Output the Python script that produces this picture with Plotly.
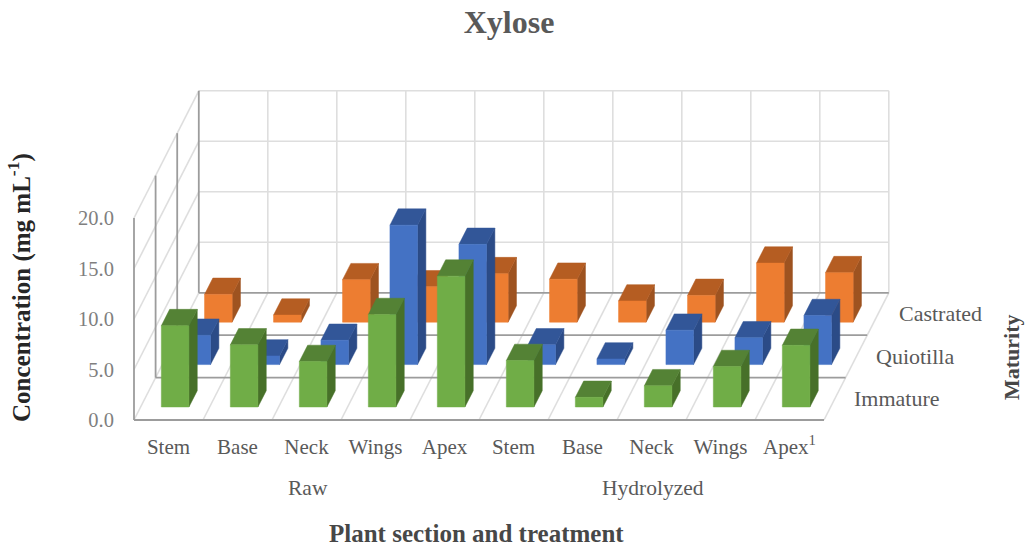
import plotly.graph_objects as go

# Categories along the front axis and the depth axis
SECTIONS = ["Stem", "Base", "Neck", "Wings", "Apex", "Stem", "Base", "Neck", "Wings", "Apex<sup>1</sup>"]
TREATMENTS = ["Raw", "Hydrolyzed"]
MATURITY = ["Immature", "Quiotilla", "Castrated"]

# Xylose concentration, mg/mL
IMMATURE = [8.05, 6.15, 4.5, 9.15, 12.95, 4.6, 0.95, 2.1, 4.0, 6.1]
QUIOTILLA = [2.9, 0.85, 2.4, 13.8, 11.9, 1.95, 0.55, 3.4, 2.65, 4.85]
CASTRATED = [2.75, 0.7, 4.2, 3.5, 4.8, 4.25, 2.1, 2.65, 5.85, 4.9]

Y_TICKS = [0, 5, 10, 15, 20]

# Page and plot-area layout, in pixels; the plot area leaves a little room
# around the front-left corner of the floor so its edge lines stay whole
WIDTH, HEIGHT = 1025, 546
PLOT_LEFT, PLOT_RIGHT, PLOT_TOP, PLOT_BOTTOM = 124, 900, 80, 424
ORIGIN_X, ORIGIN_Y = 134, 420
PX_PER_CATEGORY = 69.0
PX_PER_UNIT = 10.1

# Oblique projection: one depth row shifts a point along the x and y data axes
DX = 21.6 / PX_PER_CATEGORY
DY = 42.4 / PX_PER_UNIT
BAR_HALF_WIDTH = 0.2
BAR_HALF_DEPTH = 0.1925

GRID_LIGHT = "#dedede"
GRID_DARK = "#9c9c9c"
SERIF = "Liberation Serif"
TEXT_GREY = "#595959"
TITLE_GREY = "#474747"

# (front, top, side) colours per maturity row
ROW_COLOURS = [
    ("#70ad47", "#548235", "#477029"),
    ("#4472c4", "#325698", "#2b4b87"),
    ("#ed7d31", "#b55d22", "#9e5320"),
]
ROW_VALUES = [IMMATURE, QUIOTILLA, CASTRATED]


def project(cat, depth, value):
    return cat + depth * DX, value + depth * DY


def polyline(points):
    xs, ys = [], []
    for cat, depth, value in points:
        x, y = project(cat, depth, value)
        xs.append(x)
        ys.append(y)
    return xs, ys


def add_grid(fig, segments, colour, width):
    xs, ys = [], []
    for seg in segments:
        sx, sy = polyline(seg)
        xs += sx + [None]
        ys += sy + [None]
    fig.add_trace(go.Scatter(x=xs, y=ys, mode="lines", hoverinfo="skip",
                             line=dict(color=colour, width=width), showlegend=False))


def add_faces(fig, polygons, colour, name):
    xs, ys = [], []
    for poly in polygons:
        sx, sy = polyline(poly + poly[:1])
        xs += sx + [None]
        ys += sy + [None]
    fig.add_trace(go.Scatter(x=xs, y=ys, mode="lines", fill="toself", fillcolor=colour,
                             line=dict(color=colour, width=0.5),
                             name=name, showlegend=False, hoverinfo="skip"))


def paper_x(px):
    return (px - PLOT_LEFT) / (PLOT_RIGHT - PLOT_LEFT)


def paper_y(px):
    return (PLOT_BOTTOM - px) / (PLOT_BOTTOM - PLOT_TOP)


def label(px, py, text, size, colour, bold=False, angle=0):
    return dict(xref="paper", yref="paper", x=paper_x(px), y=paper_y(py), text=text, showarrow=False,
                textangle=angle, xanchor="center", yanchor="middle",
                font=dict(family=SERIF, size=size, color=colour, weight="bold" if bold else "normal"))


fig = go.Figure()

n_cat = len(SECTIONS)
n_row = len(MATURITY)

# Walls and floor
light = []
light += [[(c, n_row, 0), (c, n_row, 20)] for c in range(1, n_cat + 1)]
light += [[(0, n_row, v), (n_cat, n_row, v)] for v in Y_TICKS[1:]]
light += [[(0, 0, v), (0, n_row, v)] for v in Y_TICKS[1:]]
light += [[(c, 0, 0), (c, n_row, 0)] for c in range(0, n_cat + 1)]
add_grid(fig, light, GRID_LIGHT, 1.6)

dark = []
dark += [[(0, d, 0), (n_cat, d, 0)] for d in range(n_row + 1)]
dark += [[(0, d, 0), (0, d, 20)] for d in range(n_row + 1)]
add_grid(fig, dark, GRID_DARK, 1.8)

# Bars, back row first so nearer rows paint over farther ones
for row in reversed(range(n_row)):
    front_faces, top_faces, side_faces = [], [], []
    for i, value in enumerate(ROW_VALUES[row]):
        c0 = i + 0.5 - BAR_HALF_WIDTH
        c1 = i + 0.5 + BAR_HALF_WIDTH
        d0 = row + 0.5 - BAR_HALF_DEPTH
        d1 = row + 0.5 + BAR_HALF_DEPTH
        front_faces.append([(c0, d0, 0), (c1, d0, 0), (c1, d0, value), (c0, d0, value)])
        top_faces.append([(c0, d0, value), (c1, d0, value), (c1, d1, value), (c0, d1, value)])
        side_faces.append([(c1, d0, 0), (c1, d1, 0), (c1, d1, value), (c1, d0, value)])
    front, top, side = ROW_COLOURS[row]
    add_faces(fig, side_faces, side, MATURITY[row] + " side")
    add_faces(fig, top_faces, top, MATURITY[row] + " top")
    add_faces(fig, front_faces, front, MATURITY[row])

annotations = [
    label(308, 488, TREATMENTS[0], 21.5, TEXT_GREY),
    label(653, 488, TREATMENTS[1], 21.5, TEXT_GREY),
    label(897, 398, MATURITY[0], 22, TEXT_GREY),
    label(915, 356, MATURITY[1], 22, TEXT_GREY),
    label(940, 313, MATURITY[2], 22, TEXT_GREY),
    label(19, 288, "Concentration (mg mL<sup>-1</sup>)", 25, "#262626", bold=True, angle=-90),
    label(1011, 357, "Maturity", 22, TITLE_GREY, bold=True, angle=-90),
    label(476, 533, "Plant section and treatment", 25, TITLE_GREY, bold=True),
]

fig.update_layout(
    width=WIDTH, height=HEIGHT,
    margin=dict(l=PLOT_LEFT, r=WIDTH - PLOT_RIGHT, t=PLOT_TOP, b=HEIGHT - PLOT_BOTTOM),
    paper_bgcolor="white", plot_bgcolor="white",
    showlegend=False,
    title=dict(text="Xylose", x=509 / WIDTH, y=1 - 22 / HEIGHT, xanchor="center", yanchor="middle",
               xref="container", yref="container",
               font=dict(family=SERIF, size=32, color=TEXT_GREY, weight="bold")),
    annotations=annotations,
)

fig.update_xaxes(
    range=[(PLOT_LEFT - ORIGIN_X) / PX_PER_CATEGORY, (PLOT_RIGHT - ORIGIN_X) / PX_PER_CATEGORY],
    showgrid=False, zeroline=False, showline=False,
    tickmode="array", tickvals=[i + 0.5 for i in range(n_cat)], ticktext=SECTIONS,
    ticks="outside", ticklen=4, tickcolor="rgba(0,0,0,0)",
    tickfont=dict(family=SERIF, size=21, color=TEXT_GREY),
)
fig.update_yaxes(
    range=[(ORIGIN_Y - PLOT_BOTTOM) / PX_PER_UNIT, (ORIGIN_Y - PLOT_TOP) / PX_PER_UNIT],
    showgrid=False, zeroline=False, showline=False,
    tickmode="array", tickvals=Y_TICKS, ticktext=[f"{v:.1f}" for v in Y_TICKS],
    ticks="outside", ticklen=5, tickcolor="rgba(0,0,0,0)",
    tickfont=dict(family=SERIF, size=20.5, color="#7f7f7f"),
)

fig.write_html("out.html")
